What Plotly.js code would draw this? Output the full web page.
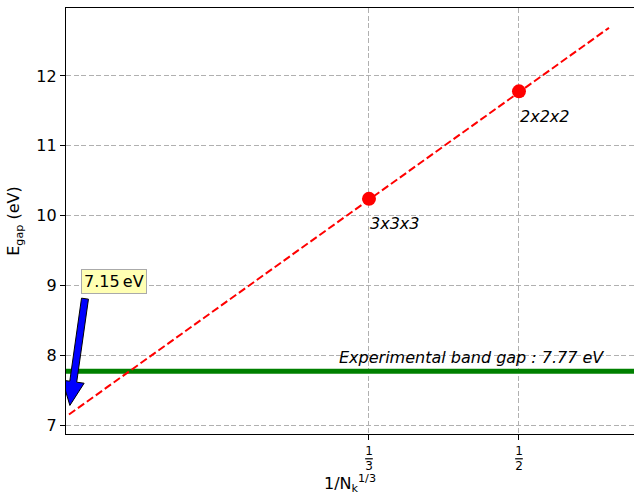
<!DOCTYPE html>
<html><head><meta charset="utf-8">
<script src="https://cdn.plot.ly/plotly-3.0.1.min.js"></script>
<style>body{margin:0;padding:0;background:#fff}#chart{width:634px;height:495px}</style>
</head><body><div id="chart"></div>
<script>
// Data
const pointX = [1/3, 1/2];
const pointY = [10.24, 11.78];
const pointLabels = ["3x3x3", "2x2x2"];
const fitX = [0, 0.6];
const fitY = [7.15, 12.69];
const expGap = 7.77;
const xRange = [-0.0033, 0.6278];
const yRange = [6.871, 12.974];
const xTickVals = [1/3, 1/2];
const xTickNum = ["1", "1"];
const xTickDen = ["3", "2"];
const yTickVals = [7, 8, 9, 10, 11, 12];
const arrowHead = [0.001, 7.28];
const arrowTail = [0.0178, 8.81];
const arrowText = "7.15\u2009eV";
const arrowTextPos = [0.0505, 9.05];
const expText = "Experimental band gap : 7.77 eV";
const expTextPos = [0.3, 7.97];

const W = 634, H = 495;
const margin = {l: 66, r: 0, t: 8, b: 61};
const font = "'DejaVu Sans', sans-serif";
const FS = 16;

const xTickText = xTickVals.map((v, i) =>
  xTickNum[i] + "<br><span style='text-decoration:overline'>" + xTickDen[i] + "</span>");

// fancy arrow polygon (in pixel units converted to data units)
const pxPerX = (W - margin.l - margin.r) / (xRange[1] - xRange[0]);
const pxPerY = (H - margin.t - margin.b) / (yRange[1] - yRange[0]);
function arrowPath(tail, head, shaftHalf, headHalf, headLen) {
  const tx = tail[0] * pxPerX, ty = tail[1] * pxPerY;
  const hx = head[0] * pxPerX, hy = head[1] * pxPerY;
  const dx = hx - tx, dy = hy - ty, L = Math.hypot(dx, dy);
  const ux = dx / L, uy = dy / L, nx = -uy, ny = ux;
  const bx = hx - ux * headLen, by = hy - uy * headLen;
  const pts = [
    [tx + nx * shaftHalf, ty + ny * shaftHalf],
    [bx + nx * shaftHalf, by + ny * shaftHalf],
    [bx + nx * headHalf, by + ny * headHalf],
    [hx, hy],
    [bx - nx * headHalf, by - ny * headHalf],
    [bx - nx * shaftHalf, by - ny * shaftHalf],
    [tx - nx * shaftHalf, ty - ny * shaftHalf]
  ];
  return 'M ' + pts.map(p => (p[0] / pxPerX) + ',' + (p[1] / pxPerY)).join(' L ') + ' Z';
}

const traces = [
  {x: [xRange[0], xRange[1]], y: [expGap, expGap], mode: 'lines',
   line: {color: 'green', width: 5}, hoverinfo: 'skip', showlegend: false},
  {x: fitX, y: fitY, mode: 'lines', line: {color: 'red', width: 2, dash: '7.7px,3.3px'},
   showlegend: false},
  {x: pointX, y: pointY, mode: 'markers', marker: {color: 'red', size: 14},
   showlegend: false}
];
const annotations = pointX.map((x, i) => ({
  x: x, y: pointY[i] - 0.36, xref: 'x', yref: 'y', text: '<i>' + pointLabels[i] + '</i>',
  showarrow: false, xanchor: 'left', yanchor: 'middle', xshift: -1,
  font: {family: font, size: FS, color: 'black'}
}));
annotations.push({
  x: expTextPos[0], y: expTextPos[1], xref: 'x', yref: 'y', text: '<i>' + expText + '</i>',
  showarrow: false, xanchor: 'left', yanchor: 'middle', xshift: -2,
  font: {family: font, size: FS, color: 'black'}
});
annotations.push({
  x: arrowTextPos[0], y: arrowTextPos[1], xref: 'x', yref: 'y', text: arrowText,
  showarrow: false, xanchor: 'center', yanchor: 'middle',
  bgcolor: '#ffffb3', bordercolor: '#aaaaaa', borderwidth: 1, borderpad: 2,
  font: {family: font, size: FS, color: 'black'}
});

const shapes = [{
  type: 'path', xref: 'x', yref: 'y',
  path: arrowPath(arrowTail, arrowHead, 3.5, 11, 24),
  fillcolor: 'blue', line: {color: 'black', width: 1}, layer: 'above'
}];

const gridDash = '5px,2.5px';
const layout = {
  width: W, height: H, margin: margin,
  paper_bgcolor: 'white', plot_bgcolor: 'white',
  font: {family: font, size: FS, color: 'black'},
  xaxis: {
    range: xRange, tickvals: xTickVals, ticktext: xTickText,
    tickfont: {size: 12},
    showgrid: true, gridcolor: '#b0b0b0', griddash: gridDash, gridwidth: 1,
    showline: true, linecolor: 'black', linewidth: 1.2, mirror: true,
    ticks: 'outside', ticklen: 5, tickcolor: 'black', zeroline: false,
    title: {text: '1/N<sub>k</sub><sup>1/3</sup>', font: {size: FS}, standoff: 9}
  },
  yaxis: {
    range: yRange, tickvals: yTickVals,
    tickfont: {size: FS},
    showgrid: true, gridcolor: '#b0b0b0', griddash: gridDash, gridwidth: 1,
    showline: true, linecolor: 'black', linewidth: 1.2,
    ticks: 'outside', ticklen: 5, tickcolor: 'black', zeroline: false,
    title: {text: 'E<sub>gap</sub> (eV)', font: {size: FS}, standoff: 12}
  },
  annotations: annotations,
  shapes: shapes,
  showlegend: false
};
Plotly.newPlot('chart', traces, layout, {displayModeBar: false, staticPlot: true});
</script></body></html>
